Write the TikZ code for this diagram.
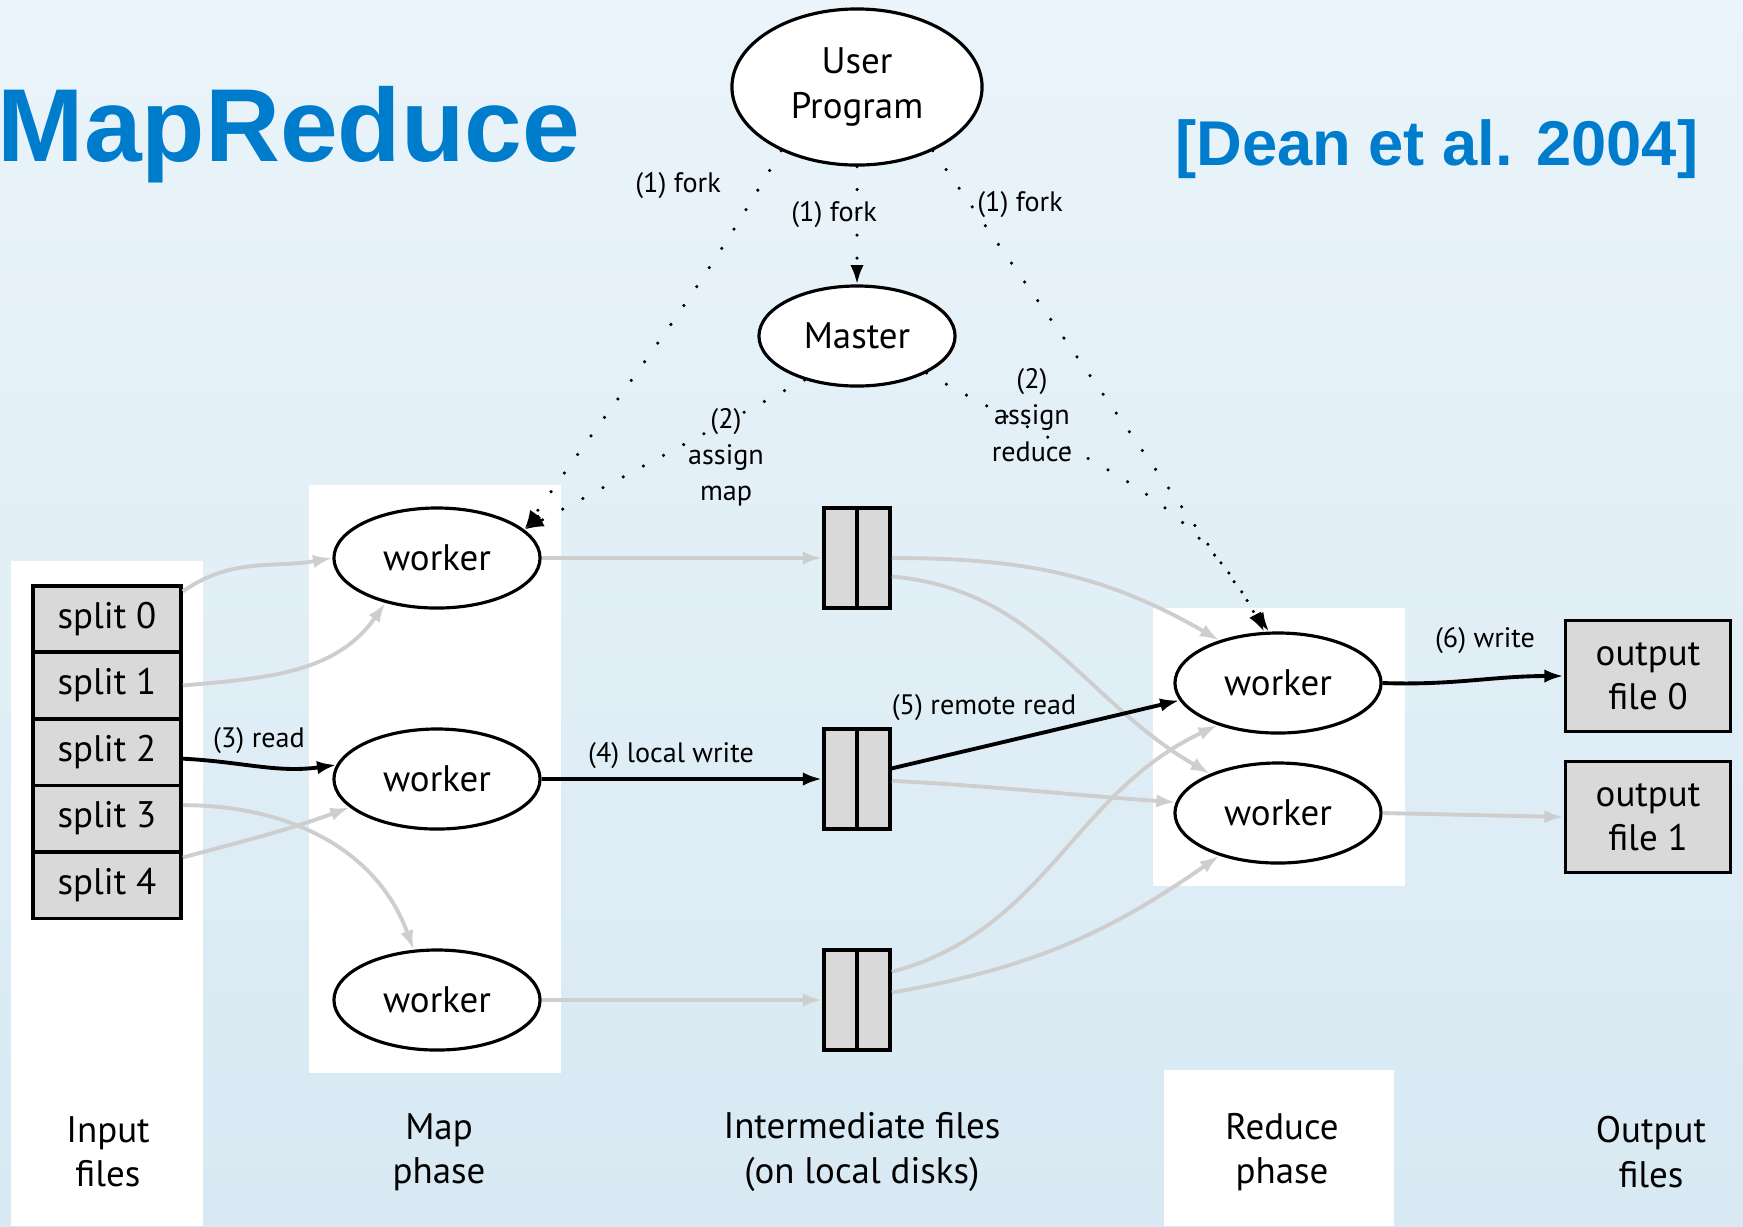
\documentclass[tikz,border=0pt]{standalone}
\usepackage{fontspec}
\setmainfont{PT Sans}
\newfontfamily\titlefont{Liberation Sans}
\usetikzlibrary{arrows.meta,shapes.geometric}

\definecolor{mrblue}{RGB}{0,124,204}
\definecolor{waterlight}{RGB}{234,244,250}
\definecolor{waterdark}{RGB}{216,233,243}
\definecolor{filegray}{RGB}{217,217,217}
\definecolor{flowgray}{RGB}{206,206,206}

\begin{document}
\begin{tikzpicture}[x=0.01cm, y=-0.01cm,
  every node/.style={font=\fontsize{10.5}{12.6}\selectfont, inner sep=0pt},
  proc/.style={draw, ellipse, line width=0.9pt, fill=white, minimum width=2.06cm, minimum height=1cm},
  split/.style={draw, rectangle, line width=1pt, fill=filegray, minimum width=1.48cm, minimum height=0.665cm},
  outfile/.style={draw, rectangle, line width=1pt, fill=filegray, minimum width=1.65cm, minimum height=1.11cm, align=center},
  disk/.style={draw, rectangle, line width=1pt, fill=filegray, minimum width=0.66cm, minimum height=1cm},
  lbl/.style={font=\fontsize{8}{10.3}\selectfont, align=center},
  phase/.style={align=center},
  flow/.style={-{Latex[length=5.5pt,width=3.8pt]}, line width=1.1pt},
  faint/.style={flow, draw=flowgray, line width=1.1pt},
  ctrl/.style={-{Latex[length=5.5pt,width=3.8pt]}, line width=1pt, line cap=round, dash pattern=on 0pt off 6.5pt},
]
  \useasboundingbox (0,0) rectangle (1743,1226);
  \shade[top color=waterlight, bottom color=waterdark] (0,0) rectangle (1743,1226);

  % white panels behind each stage
  \fill[white] (11,561) rectangle (203,1226);
  \fill[white] (309,485) rectangle (561,1073);
  \fill[white] (1153,608) rectangle (1405,886);
  \fill[white] (1164,1070) rectangle (1394,1226);

  \node[anchor=base west, text=mrblue, font=\titlefont\fontsize{29.5}{36}\selectfont\bfseries] (title) at (-3,161) {MapReduce};
  \node[anchor=base east, text=mrblue, font=\titlefont\fontsize{18}{22}\selectfont\bfseries] (cite) at (1699,165) {[Dean et al. 2004]};

  \node[proc, minimum width=2.5cm, minimum height=1.56cm, align=center] (up) at (857,87) {User\\Program};
  \node[proc, minimum width=1.96cm] (ma) at (857,336) {Master};

  \foreach \i in {0,...,4}
    \node[split] (s\i) at (107,619+66.5*\i) {split \i};

  \node[proc] (m0) at (437,558) {worker};
  \node[proc] (m1) at (437,779) {worker};
  \node[proc] (m2) at (437,1000) {worker};

  \foreach \i/\y in {0/558,1/779,2/1000} {
    \node[disk] (f\i) at (857,\y) {};
    \draw[line width=1pt] (f\i.north) -- (f\i.south);
  }

  \node[proc] (r0) at (1278,683) {worker};
  \node[proc] (r1) at (1278,813) {worker};

  \node[outfile] (o0) at (1648,676) {output\\file 0};
  \node[outfile] (o1) at (1648,817) {output\\file 1};

  \node[phase] (in) at (108,1152) {Input\\files};
  \node[phase] (mp) at (439,1152) {Map\\phase};
  \node[phase] (im) at (862,1152) {Intermediate files\\(on local disks)};
  \node[phase] (rp) at (1282,1152) {Reduce\\phase};
  \node[phase] (op) at (1651,1152) {Output\\files};

  % fork and assign
  \draw[ctrl] (up) -- (ma);
  \draw[ctrl] (up.220) to[out=240,in=55] (m0.18);
  \draw[ctrl] (up.-40) -- (r0.100);
  \draw[ctrl] (ma.220) -- (m0.18);
  \draw[ctrl] (ma.-28) to[out=-30,in=118] (r0.105);
  \node[lbl] (fork0) at (678,186) {(1) fork};
  \node[lbl] (fork1) at (834,215) {(1) fork};
  \node[lbl] (fork2) at (1020,205) {(1) fork};
  \node[lbl] (amap) at (726,457) {(2)\\assign\\map};
  \node[lbl] (ared) at (1032,415) {(2)\\assign\\reduce};

  % input splits to map workers
  \draw[faint] (s0.20) to[out=35,in=190] (m0.west);
  \draw[faint] (s1.east) to[out=5,in=235] (m0.221);
  \draw[flow] (s2.-5) to[out=-3,in=188] (m1.172);
  \draw[faint] (s3.10) to[out=0,in=110] (m2.115);
  \draw[faint] (s4.20) to[out=15,in=200] (m1.198);
  \node[lbl] (read) at (259,741) {(3) read};

  % map workers to local disks
  \draw[faint] (m0.east) -- (f0.west);
  \draw[flow] (m1.east) -- (f1.west);
  \draw[faint] (m2.east) -- (f2.west);
  \node[lbl] (lwrite) at (671,756) {(4) local write};

  % local disks to reduce workers
  \draw[faint] (f0.east) to[out=0,in=150] (r0.144);
  \draw[faint] (f0.-28) to[out=-5,in=150] (r1.150);
  \draw[flow] (f1.17) -- (r0.190);
  \draw[faint] (f1.-3) to[out=-3,in=176] (r1.174);
  \draw[faint] (f2.39) to[out=15,in=205] (r0.215);
  \draw[faint] (f2.12) to[out=10,in=215] (r1.216);
  \node[lbl] (rread) at (984,708) {(5) remote read};

  % reduce workers to output files
  \draw[flow] (r0.east) to[out=-2,in=180] (o0.west);
  \draw[faint] (r1.east) -- (o1.west);
  \node[lbl] (owrite) at (1485,641) {(6) write};
\end{tikzpicture}
\end{document}
